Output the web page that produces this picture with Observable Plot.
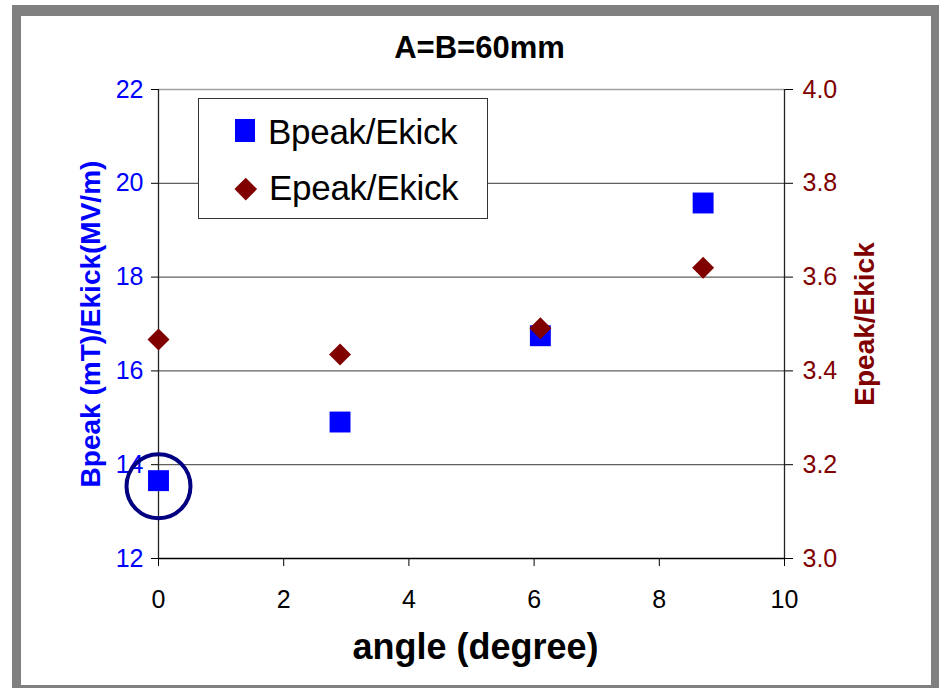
<!DOCTYPE html>
<html>
<head>
<meta charset="utf-8">
<script src="https://cdn.jsdelivr.net/npm/d3@7"></script>
<script src="https://cdn.jsdelivr.net/npm/@observablehq/plot@0.6"></script>
<style>
  html, body { margin: 0; padding: 0; background: white; }
  body { width: 939px; height: 688px; position: relative; overflow: hidden; font-family: "Liberation Sans", Arial, sans-serif; }
  #frame { position: absolute; left: 12px; top: 5px; width: 927px; height: 683px; background: #808080; }
  #inner { position: absolute; left: 21px; top: 16px; width: 910px; height: 669px; background: white; }
  #chart { position: absolute; left: 0; top: 0; }
  #chart svg g[aria-label$="tick label"] { font-size: 25px !important; }
  #chart svg g[aria-label$="tick label"] text { font-size: 25px !important; }
  #legend { position: absolute; left: 198px; top: 98px; width: 290px; height: 121px; box-sizing: border-box;
            border: 1px solid #333; background: white; }
  .lg-text { position: absolute; font-size: 35px; letter-spacing: -0.3px; color: black; line-height: 35px; white-space: nowrap; }
  .sw-sq { position: absolute; width: 20px; height: 23px; background: #0000ff; }
  .sw-di { position: absolute; width: 15.5px; height: 15.5px; background: #800000; transform: rotate(45deg); }
</style>
</head>
<body>
<div id="frame"></div>
<div id="inner"></div>
<div id="chart"></div>
<div id="legend">
  <div class="sw-sq" style="left:36px; top:20px;"></div>
  <div class="lg-text" id="lg1" style="left:69px; top:15px;"></div>
  <div class="sw-di" style="left:38.5px; top:82px;"></div>
  <div class="lg-text" id="lg2" style="left:70px; top:71px;"></div>
</div>
<script>
const title = "A=B=60mm";
const xLabel = "angle (degree)";
const leftLabel = "Bpeak (mT)/Ekick(MV/m)";
const rightLabel = "Epeak/Ekick";
const seriesNames = ["Bpeak/Ekick", "Epeak/Ekick"];

const angles = [0, 2.9, 6.1, 8.7];
const bpeak = [13.66, 14.91, 16.75, 19.58];
const epeak = [3.467, 3.435, 3.491, 3.620];

const xTicks = [0, 2, 4, 6, 8, 10];
const leftTicks = [12, 14, 16, 18, 20, 22];
const rightTicks = [3.0, 3.2, 3.4, 3.6, 3.8, 4.0];
const highlight = [{angle: 0, value: 13.54}];

// map right-axis values onto the left scale (3.0..4.0 -> 12..22)
const toLeft = v => 12 + (v - 3.0) * 10;
const fromLeft = v => (v - 12) / 10 + 3.0;

const bData = angles.map((a, i) => ({angle: a, value: bpeak[i]}));
const eData = angles.map((a, i) => ({angle: a, value: toLeft(epeak[i])}));

document.getElementById("lg1").textContent = seriesNames[0];
document.getElementById("lg2").textContent = seriesNames[1];

const chart = Plot.plot({
  width: 939,
  height: 688,
  marginLeft: 158,
  marginRight: 155,
  marginTop: 89,
  marginBottom: 130,
  style: {background: "transparent", fontFamily: "'Liberation Sans', Arial, sans-serif", fontSize: "25px", overflow: "visible"},
  x: {domain: [0, 10], axis: null},
  y: {domain: [12, 22], axis: null},
  marks: [
    Plot.ruleY(leftTicks.filter(d => d > 12 && d < 22), {stroke: "#606060", strokeWidth: 1.3}),
    Plot.ruleY([22], {stroke: "#a0a0a0", strokeWidth: 1.5}),
    Plot.ruleY([12], {stroke: "black", strokeWidth: 1.3}),
    Plot.ruleX([0, 10], {stroke: "#222", strokeWidth: 1.3}),
    Plot.axisX(xTicks, {anchor: "bottom", tickSize: 8, tickPadding: 24, fontSize: 25, stroke: "black", fill: "black", label: null, tickFormat: d => String(d)}),
    Plot.axisY(leftTicks, {anchor: "left", tickSize: 7, tickPadding: 8, fontSize: 25, stroke: "black", fill: "#0000ff", label: null, tickFormat: d => String(d)}),
    Plot.axisY(rightTicks.map(toLeft), {anchor: "right", tickSize: 8, tickPadding: 10, fontSize: 25, stroke: "black", fill: "#800000", label: null, tickFormat: d => fromLeft(d).toFixed(1)}),
    Plot.dot(bData, {x: "angle", y: "value", symbol: "square", r: 11.8, fill: "#0000ff", stroke: "none"}),
    Plot.dot(eData, {x: "angle", y: "value", symbol: "diamond2", r: 9.9, fill: "#800000", stroke: "none"}),
    Plot.dot(highlight, {x: "angle", y: "value", r: 32, fill: "none", stroke: "#000080", strokeWidth: 4}),
    Plot.text([title], {frameAnchor: "top", dx: 8, dy: -41, fontSize: 31, fontWeight: "bold", fill: "black", textAnchor: "middle", lineAnchor: "middle", style: "letter-spacing:-0.8px"}),
    Plot.text([xLabel], {frameAnchor: "bottom", dx: 4, dy: 89, fontSize: 36, fontWeight: "bold", fill: "black", textAnchor: "middle", lineAnchor: "middle"}),
    Plot.text([leftLabel], {frameAnchor: "left", dx: -67, rotate: -90, fontSize: 28, fontWeight: "bold", fill: "#0000ff", textAnchor: "middle", lineAnchor: "middle"}),
    Plot.text([rightLabel], {frameAnchor: "right", dx: 81, rotate: -90, fontSize: 28, fontWeight: "bold", fill: "#800000", textAnchor: "middle", lineAnchor: "middle"})
  ]
});
document.getElementById("chart").appendChild(chart);
</script>
</body>
</html>
